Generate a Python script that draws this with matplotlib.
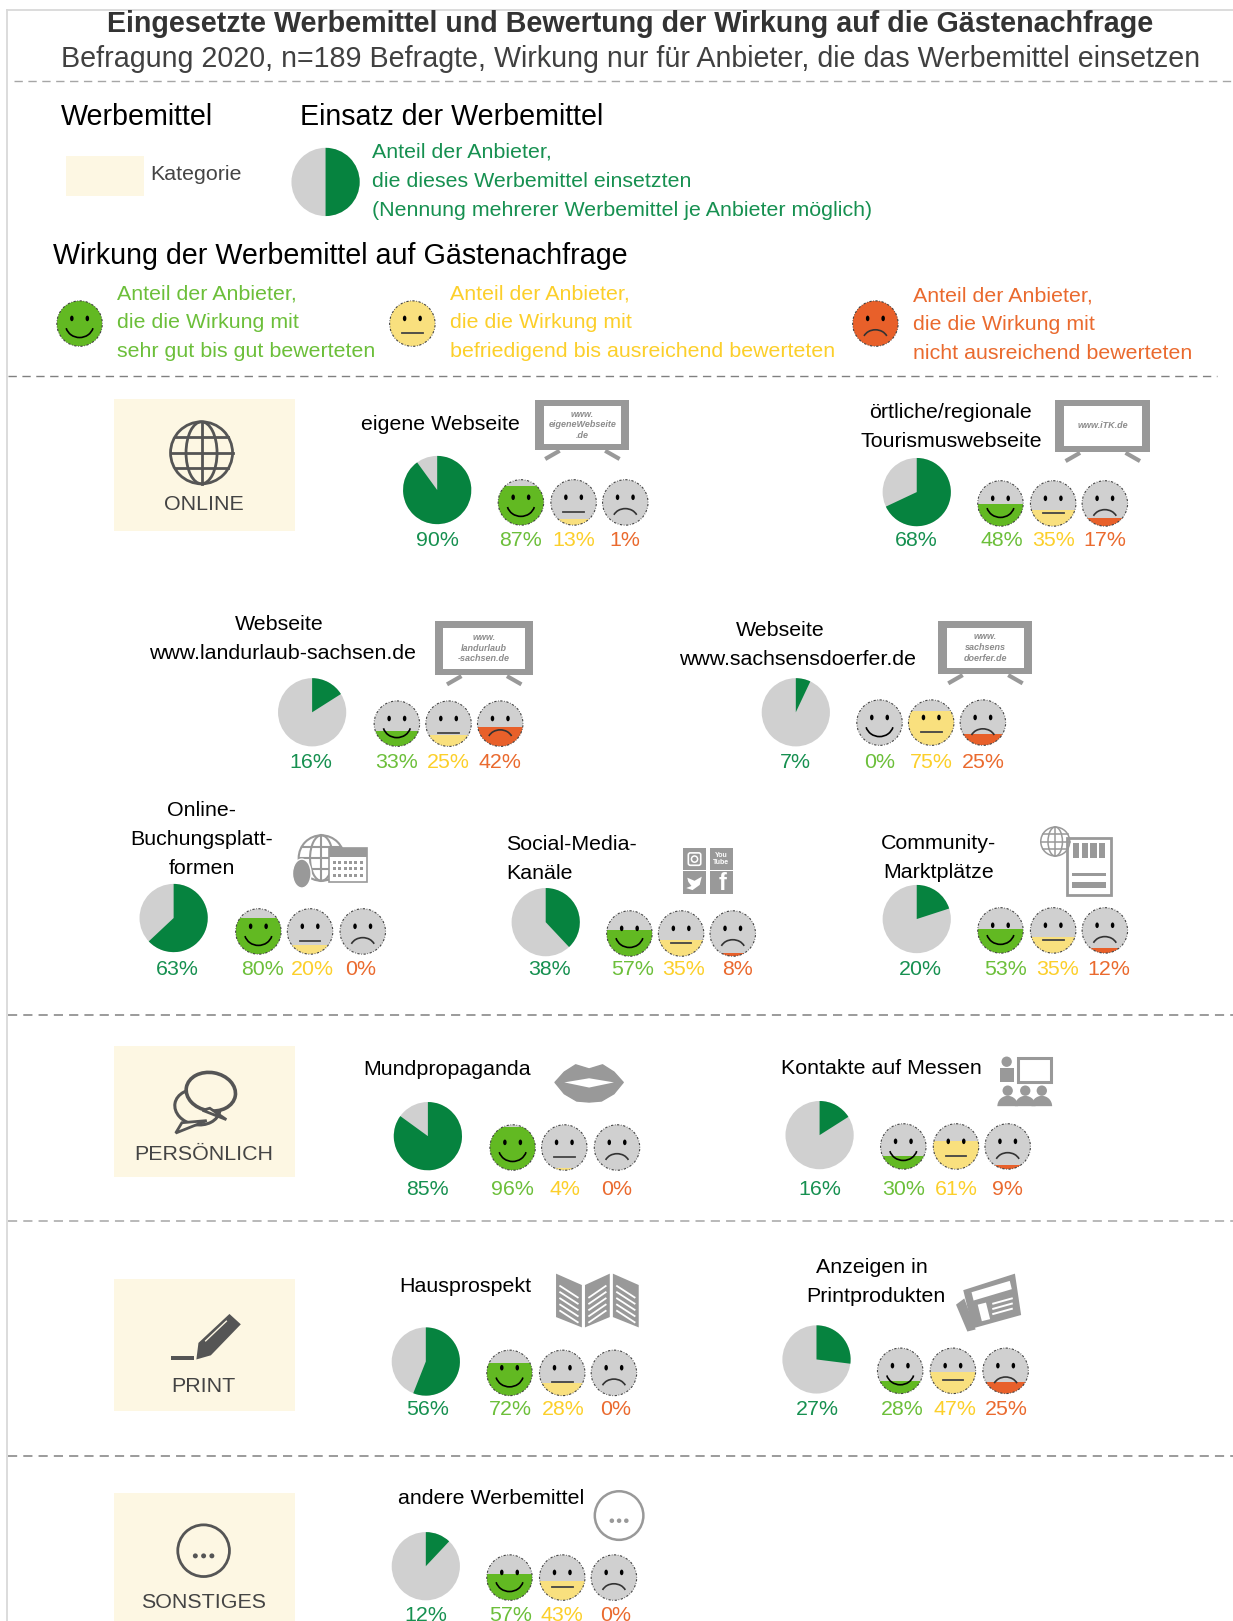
import matplotlib
matplotlib.use("Agg")
import matplotlib.pyplot as plt
from matplotlib.patches import Wedge, Circle, Rectangle, Ellipse, Arc, Polygon, FancyBboxPatch

plt.rcParams['font.family'] = ['Liberation Sans', 'DejaVu Sans']

# ---------- data ----------
names = [
    ["eigene Webseite"],
    ["örtliche/regionale", "Tourismuswebseite"],
    ["Webseite", "www.landurlaub-sachsen.de"],
    ["Webseite", "www.sachsensdoerfer.de"],
    ["Online-", "Buchungsplatt-", "formen"],
    ["Social-Media-", "Kanäle"],
    ["Community-", "Marktplätze"],
    ["Mundpropaganda"],
    ["Kontakte auf Messen"],
    ["Hausprospekt"],
    ["Anzeigen in", "Printprodukten"],
    ["andere Werbemittel"],
]
einsatz = [90, 68, 16, 7, 63, 38, 20, 85, 16, 56, 27, 12]
gut = [87, 48, 33, 0, 80, 57, 53, 96, 30, 72, 28, 57]
mittel = [13, 35, 25, 75, 20, 35, 35, 4, 61, 28, 47, 43]
schlecht = [1, 17, 42, 25, 0, 8, 12, 0, 9, 0, 25, 0]
kategorien = ["ONLINE", "PERSÖNLICH", "PRINT", "SONSTIGES"]

# ---------- layout (in coordinates of a 1193 x 1568 canvas) ----------
pie_xy = [(423, 474), (887, 476), (302, 689), (770, 689), (168, 888), (528, 892),
          (887, 889), (414, 1099), (793, 1098), (412, 1317), (790, 1315), (412, 1515)]
face_x = [(504, 555, 605), (968, 1019, 1069), (384, 434, 484), (851, 901, 951),
          (250, 300, 351), (609, 659, 709), (968, 1019, 1069), (496, 546, 597),
          (874, 925, 975), (493, 544, 594), (871, 922, 973), (493, 544, 594)]
face_y = [486, 487, 700, 699, 901, 903, 900, 1110, 1109, 1328, 1326, 1526]
label_y = [522, 522, 736, 736, 937, 937, 937, 1149, 1149, 1362, 1362, 1561]
pie_lx = [423, 887, 301, 770, 172, 532, 891, 414, 793, 414, 791, 412]
face_lx = [(504, 555, 605), (969, 1019, 1069), (384, 434, 484), (851, 901, 951),
           (254, 302, 349), (612, 661, 714), (973, 1023, 1073), (496, 547, 597),
           (874, 925, 975), (494, 545, 596), (873, 924, 974), (494, 544, 596)]
title_pos = [
    [(426, 409)], [(920, 398), (920, 426)], [(270, 603), (273, 631)], [(755, 609), (772, 637)],
    [(195, 783), (195, 811), (195, 839)], [(553, 816), (522, 844)], [(908, 815), (908, 843)],
    [(433, 1033)], [(853, 1032)], [(450, 1243)], [(844, 1225), (847, 1253)], [(475, 1448)],
]
box_y = [(386, 514), (1012, 1139), (1237, 1365), (1444, 1590)]
cat_label_y = [487, 1116, 1340, 1549]

PIE_G = "#06833f"; GREY = "#d0d0d0"; FACE_GOOD = "#62b922"; FACE_MID = "#f9e07e"; FACE_BAD = "#e8602a"
T_PIE = "#169050"; T_GOOD = "#6cbf3a"; T_MID = "#fccf2a"; T_BAD = "#ea6a2e"
ICON = "#999999"; DARK = "#555555"; BOX = "#fdf7e3"

fig = plt.figure(figsize=(12.33, 16.21), dpi=100)
ax = fig.add_axes([0, 0, 1, 1])
ax.set_xlim(0, 1193); ax.set_ylim(1568, 0); ax.axis("off")

BODY = 15.4


def T(x, y, s, size=BODY, color="black", ha="center", **kw):
    ax.text(x, y + 1.2, s, fontsize=size, color=color, ha=ha, va="center", **kw)


def pie(x, y, p, r=33):
    ax.add_patch(Circle((x, y), r, fc=GREY, ec="none", zorder=2))
    ax.add_patch(Wedge((x, y), r, -90, -90 + 3.6 * p, fc=PIE_G, ec="none", zorder=3))


def face(x, y, kind, p, r=22):
    col = {0: FACE_GOOD, 1: FACE_MID, 2: FACE_BAD}[kind]
    base = Circle((x, y), r, fc=GREY, ec="none", zorder=2)
    ax.add_patch(base)
    fill = Rectangle((x - r, y + r - 2 * r * p / 100), 2 * r, 2 * r * p / 100, fc=col, ec="none", zorder=3)
    ax.add_patch(fill)
    fill.set_clip_path(base)
    ax.add_patch(Circle((x, y), r, fc="none", ec="#444444", lw=0.8, ls=(0, (2, 1.5, 0.6, 1.5)), zorder=4))
    for dx in (-7.5, 7.5):
        ax.add_patch(Ellipse((x + dx, y - 5), 3.4, 5.4, fc="black", ec="none", zorder=5))
    if kind == 0:
        ax.add_patch(Arc((x, y + 1), 27, 25, theta1=15, theta2=165, ec="black", lw=1.2, zorder=5))
    elif kind == 1:
        ax.plot([x - 10, x + 10], [y + 9, y + 9], color="#444444", lw=1.3, zorder=5)
    else:
        ax.add_patch(Arc((x, y + 16), 24, 20, theta1=200, theta2=340, ec="#333333", lw=1.2, zorder=5))


def globe(x, y, r, col, lw=1.8):
    ax.add_patch(Circle((x, y), r, fc="none", ec=col, lw=lw, zorder=5))
    ax.add_patch(Ellipse((x, y), r, 2 * r, fc="none", ec=col, lw=lw, zorder=5))
    ax.plot([x, x], [y - r, y + r], color=col, lw=lw, zorder=5)
    ax.plot([x - r, x + r], [y, y], color=col, lw=lw, zorder=5)
    for f, h in ((-0.5, 0.866), (0.5, 0.866)):
        ax.plot([x - h * r, x + h * r], [y + f * r, y + f * r], color=col, lw=lw, zorder=5)


def monitor(x0, x1, y0, y1, txt, size=7.5):
    ax.add_patch(Rectangle((x0, y0), x1 - x0, y1 - y0, fc=ICON, ec="none", zorder=3))
    ax.add_patch(Rectangle((x0 + 8, y0 + 6), x1 - x0 - 16, y1 - y0 - 12, fc="white", ec="none", zorder=4))
    m = (x0 + x1) / 2
    ax.plot([m - 22, m - 36], [y1 + 1, y1 + 9], color=ICON, lw=3, solid_capstyle="butt", zorder=3)
    ax.plot([m + 22, m + 36], [y1 + 1, y1 + 9], color=ICON, lw=3, solid_capstyle="butt", zorder=3)
    ax.text(m, (y0 + y1) / 2, txt, fontsize=size, color="#8c8c8c", ha="center", va="center",
            fontweight="bold", style="italic", linespacing=1.25, zorder=5)


# ---------- frame and separators ----------
ax.plot([7, 7], [10, 1568], color="#d9d9d9", lw=1.3)
ax.plot([7, 1193], [10, 10], color="#d9d9d9", lw=1.3)
ax.plot([14, 1193], [78, 78], color="#a6a6a6", lw=1.0, ls=(0, (6, 4)))
ax.plot([8, 1178], [364, 364], color="#808080", lw=1.0, ls=(0, (6, 4)))
for yy in (982, 1181, 1408):
    ax.plot([8, 1193], [yy, yy], color="#808080" if yy != 1181 else "#a6a6a6", lw=1.1, ls=(0, (6, 4)))

# ---------- title and legend ----------
T(610, 22, "Eingesetzte Werbemittel und Bewertung der Wirkung auf die Gästenachfrage", size=20.6,
  color="#333333", fontweight="bold")
T(610, 56, "Befragung 2020, n=189 Befragte, Wirkung nur für Anbieter, die das Werbemittel einsetzen",
  size=20.6, color="#404040")
T(59, 112, "Werbemittel", size=20.6, ha="left")
T(290, 112, "Einsatz der Werbemittel", size=20.6, ha="left")
T(51, 246, "Wirkung der Werbemittel auf Gästenachfrage", size=20.6, ha="left")
ax.add_patch(Rectangle((64, 151), 75, 39, fc=BOX, ec="none"))
T(145, 168, "Kategorie", color="#444444", ha="left")
pie(315, 176, 50)
for yy, s in zip((146, 174, 202), ("Anteil der Anbieter,", "die dieses Werbemittel einsetzten",
                                   "(Nennung mehrerer Werbemittel je Anbieter möglich)")):
    T(360, yy, s, color=T_PIE, ha="left")
legend_faces = [(77, 313, 113, (283, 311, 339), T_GOOD, "sehr gut bis gut bewerteten"),
                (399, 313, 435, (283, 311, 339), T_MID, "befriedigend bis ausreichend bewerteten"),
                (847, 313, 883, (285, 313, 341), T_BAD, "nicht ausreichend bewerteten")]
for k, (fx, fy, tx, ys, col, last) in enumerate(legend_faces):
    face(fx, fy, k, 100)
    for yy, s in zip(ys, ("Anteil der Anbieter,", "die die Wirkung mit", last)):
        T(tx, yy, s, color=col, ha="left")

# ---------- category boxes ----------
for name, (y0, y1), ly in zip(kategorien, box_y, cat_label_y):
    ax.add_patch(Rectangle((110, y0), 175, y1 - y0, fc=BOX, ec="none", zorder=1))
    T(197, ly, name, color="#444444", zorder=5)

globe(195, 438, 30, DARK, 2.0)
ax.add_patch(Ellipse((191, 1071), 44, 34, angle=10, fc=BOX, ec=DARK, lw=2.2, zorder=3))
ax.add_patch(Polygon([(176, 1086), (170, 1096), (200, 1084)], closed=True, fc=BOX, ec=DARK, lw=2, zorder=3))
ax.add_patch(Ellipse((204, 1056), 48, 37, angle=10, fc=BOX, ec=DARK, lw=2.6, zorder=4))
ax.add_patch(Polygon([(203, 1072), (219, 1083), (196, 1074)], closed=True, fc=BOX, ec=DARK, lw=2, zorder=4))
ax.add_patch(Polygon([(190, 1315), (192, 1299), (222, 1271), (233, 1281), (204, 1311)], closed=True, fc=DARK, ec="none", zorder=3))
ax.plot([199, 219], [1297, 1278], color=BOX, lw=1, zorder=4)
ax.add_patch(Rectangle((165, 1312), 23, 4, fc=DARK, ec="none", zorder=3))
ax.add_patch(Circle((197, 1500), 25, fc="none", ec=DARK, lw=2, zorder=3))
for dx in (-8, 0, 8):
    ax.add_patch(Circle((197 + dx, 1505), 2.4, fc=DARK, ec="none", zorder=3))

# ---------- panels ----------
for i in range(len(names)):
    for line, (tx, ty) in zip(names[i], title_pos[i]):
        T(tx, ty, line)
    pie(pie_xy[i][0], pie_xy[i][1], einsatz[i])
    T(pie_lx[i], label_y[i], f"{einsatz[i]}%", color=T_PIE)
    vals = (gut[i], mittel[i], schlecht[i])
    cols = (T_GOOD, T_MID, T_BAD)
    for k in range(3):
        face(face_x[i][k], face_y[i], k, vals[k])
        T(face_lx[i][k], label_y[i], f"{vals[k]}%", color=cols[k])

# ---------- pictograms ----------
monitor(518, 609, 387, 435, "www.\neigeneWebseite\n.de", 6.5)
monitor(1021, 1113, 387, 437, "www.iTK.de", 6.5)
monitor(421, 516, 601, 653, "www.\nlandurlaub\n-sachsen.de", 6.5)
monitor(908, 999, 601, 652, "www.\nsachsens\ndoerfer.de", 6.5)

# booking platforms: globe, calendar, mouse
globe(311, 830, 22, ICON, 1.5)
ax.add_patch(Rectangle((318, 820), 37, 33, fc="white", ec=ICON, lw=1.2, zorder=6))
ax.add_patch(Rectangle((318, 820), 37, 9, fc=ICON, ec="none", zorder=7))
for r_ in range(3):
    for c_ in range(6):
        ax.add_patch(Rectangle((322 + c_ * 5.2, 833 + r_ * 6), 3, 3, fc=ICON, ec="none", zorder=7))
ax.add_patch(Ellipse((292, 845), 18, 28, fc=ICON, ec="white", lw=1, zorder=8))

# social media squares
sq = [(661, 820), (687, 820), (661, 843), (687, 843)]
for sx, sy in sq:
    ax.add_patch(Rectangle((sx, sy), 22, 22, fc=ICON, ec="none", zorder=3))
ax.add_patch(FancyBboxPatch((666, 825), 12, 12, boxstyle="round,pad=0,rounding_size=2", fc="none", ec="white", lw=1.2, zorder=4))
ax.add_patch(Circle((672, 831), 3, fc="none", ec="white", lw=1.1, zorder=4))
ax.text(698, 831, "You\nTube", fontsize=5, color="white", ha="center", va="center", fontweight="bold", linespacing=1.0, zorder=4)
ax.add_patch(Polygon([(665, 849), (672, 852), (679, 848), (677, 856), (670, 861), (664, 859), (669, 857), (666, 853)], closed=True, fc="white", ec="none", zorder=4))
ax.text(699, 855, "f", fontsize=17, color="white", ha="center", va="center", fontweight="bold", zorder=4)

# marketplace: globe and shop
globe(1021, 814, 14, ICON, 1.1)
ax.add_patch(Rectangle((1032, 811), 43, 55, fc="white", ec=ICON, lw=2, zorder=3))
for c_ in range(4):
    ax.add_patch(Rectangle((1038 + c_ * 8.5, 815), 6, 15, fc=ICON, ec="none", zorder=4))
ax.add_patch(Rectangle((1037, 844), 33, 3, fc=ICON, ec="none", zorder=4))
ax.add_patch(Rectangle((1037, 853), 33, 6, fc=ICON, ec="none", zorder=4))

# lips
ax.add_patch(Polygon([(537, 1047), (546, 1037), (557, 1030), (570, 1034), (583, 1030), (594, 1037), (603, 1047),
                      (594, 1058), (582, 1065), (570, 1066), (558, 1065), (546, 1058)],
                     closed=True, fc=ICON, ec=ICON, lw=1, joinstyle="round", zorder=3))
ax.add_patch(Polygon([(546, 1047), (570, 1043), (594, 1047), (570, 1052)], closed=True, fc="white", ec="none", zorder=4))

# trade fair: presenter and audience
ax.add_patch(Rectangle((985, 1023), 32, 24, fc="white", ec=ICON, lw=2.2, zorder=3))
ax.add_patch(Circle((974, 1027), 5, fc=ICON, ec="none", zorder=4))
ax.add_patch(Rectangle((968, 1033), 13, 14, fc=ICON, ec="none", zorder=4))
for cx in (975, 992, 1008):
    ax.add_patch(Circle((cx, 1055), 5, fc=ICON, ec="none", zorder=4))
    ax.add_patch(Wedge((cx, 1070), 10, 180, 360, fc=ICON, ec="none", zorder=4))

# brochure
for pts in ([(538, 1232), (563, 1243), (563, 1284), (538, 1274)],
            [(566, 1243), (590, 1232), (590, 1274), (566, 1284)],
            [(593, 1232), (618, 1243), (618, 1284), (593, 1274)]):
    ax.add_patch(Polygon(pts, closed=True, fc=ICON, ec="none", zorder=3))
    for j in range(5):
        ax.plot([pts[0][0] + 4, pts[1][0] - 4],
                [pts[0][1] + 12 + j * 6, pts[1][1] + 12 + j * 6], color="white", lw=1.3, zorder=4)

# newspaper
ax.add_patch(Polygon([(925, 1262), (933, 1256), (944, 1286), (936, 1288)], closed=True, fc=ICON, ec="none", zorder=3))
ax.add_patch(Polygon([(932, 1248), (982, 1232), (988, 1272), (941, 1285)], closed=True, fc=ICON, ec="none", zorder=3))
ax.add_patch(Polygon([(940, 1250), (977, 1239), (979, 1247), (942, 1258)], closed=True, fc="white", ec="none", zorder=4))
ax.add_patch(Polygon([(946, 1262), (954, 1260), (958, 1276), (950, 1278)], closed=True, fc="white", ec="none", zorder=4))
for j in range(3):
    ax.plot([961, 979], [1261 + j * 5, 1256 + j * 5], color="white", lw=1.4, zorder=4)

# other
ax.add_patch(Circle((599, 1466), 23.5, fc="white", ec=ICON, lw=1.8, zorder=3))
for dx in (-7, 0, 7):
    ax.add_patch(Circle((599 + dx, 1471), 2.2, fc=ICON, ec="none", zorder=4))

fig.savefig("out.png", dpi=100)
